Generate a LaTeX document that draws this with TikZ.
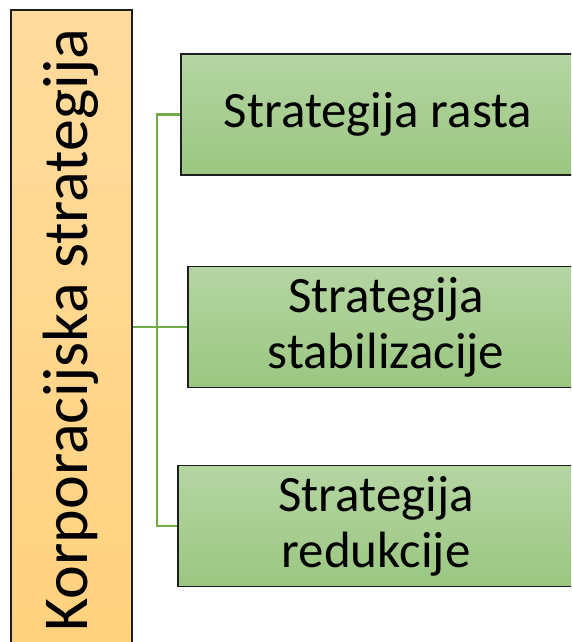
\documentclass[tikz,border=0pt]{standalone}
\usepackage{fontspec}
\setmainfont{Carlito}
\definecolor{ortop}{HTML}{FFDB9D}
\definecolor{orbot}{HTML}{FFD27E}
\definecolor{grtop}{HTML}{B5D5A3}
\definecolor{grbot}{HTML}{9BC781}
\definecolor{edge}{HTML}{1E1E1E}
\definecolor{link}{HTML}{70AD47}
\tikzset{
  corpbox/.style={draw=edge, line width=1.5pt, top color=ortop, bottom color=orbot, minimum width=121pt, minimum height=642pt, inner sep=0pt},
  stratbox/.style={draw=edge, line width=1.5pt, top color=grtop, bottom color=grbot, minimum width=395pt, minimum height=121pt, inner sep=0pt},
  bigtext/.style={font=\fontsize{64}{76}\selectfont, inner sep=0pt},
  stext/.style={font=\fontsize{51}{56}\selectfont, align=center, inner sep=0pt},
  linkline/.style={draw=link, line width=2.4pt}
}
\begin{document}
\begin{tikzpicture}[x=1pt,y=-1pt]
\useasboundingbox (0,0) rectangle (571,642);
\clip (0,0) rectangle (571,642);
\node[corpbox] (k) at (71.5,331) {};
\node[bigtext, rotate=90] (kt) at (71,330) {Korporacijska strategija};
\node[stratbox] (b1) at (378.5,114.5) {};
\node[stratbox] (b2) at (385.5,327) {};
\node[stratbox] (b3) at (375.5,526) {};
\node[stext] (t1) at (378,114) {Strategija rasta};
\node[stext] (t2) at (386,327) {Strategija\\stabilizacije};
\node[stext] (t3) at (376,526) {Strategija\\redukcije};
\coordinate (j) at (157,327);
\draw[linkline] (k.east |- j) -- (b2.west);
\draw[linkline] (b1.west) -| (j) |- (b3.west);
\end{tikzpicture}
\end{document}
